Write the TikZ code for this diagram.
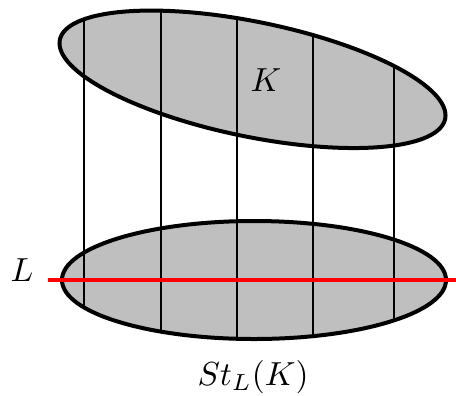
\documentclass[tikz,border=0pt]{standalone}
\begin{document}
\begin{tikzpicture}[x=0.3pt,y=-0.3pt,
  blob/.style={draw=black,line width=1.2pt,fill=lightgray},
  fibre/.style={draw=black,line width=0.6pt},
  lline/.style={draw=red,line width=1.2pt},
  lbl/.style={inner sep=0pt}]
\useasboundingbox (0,0) rectangle (456,395);
% top set K (sheared ellipse)
\draw[blob] plot[domain=0:358,samples=180]
  ({252.5+193*cos(\x)},{79.3+0.187*193*cos(\x)-58.5*sin(\x)}) -- cycle;
% bottom set St_L(K)
\draw[blob] (254,280) ellipse [x radius=192,y radius=59];
% endpoints of fibres
\coordinate (t1) at (84,19.3);   \coordinate (b1) at (84,307.4);
\coordinate (t2) at (161,10.7);  \coordinate (b2) at (161,331.6);
\coordinate (t3) at (236.5,18.0);\coordinate (b3) at (236.5,338.8);
\coordinate (t4) at (312.5,34.9);\coordinate (b4) at (312.5,336.2);
\coordinate (t5) at (394,66);    \coordinate (b5) at (394,320.4);
\foreach \i in {1,...,5} \draw[fibre] (t\i) -- (b\i);
% line L
\coordinate (la) at (48,280);
\coordinate (lb) at (456,280);
\draw[lline] (la) -- (lb);
\node[lbl] (K) at (266,80) {$K$};
\node[lbl] (L) at (22,270) {$L$};
\node[lbl] (St) at (253,377) {$St_L(K)$};
\end{tikzpicture}
\end{document}
